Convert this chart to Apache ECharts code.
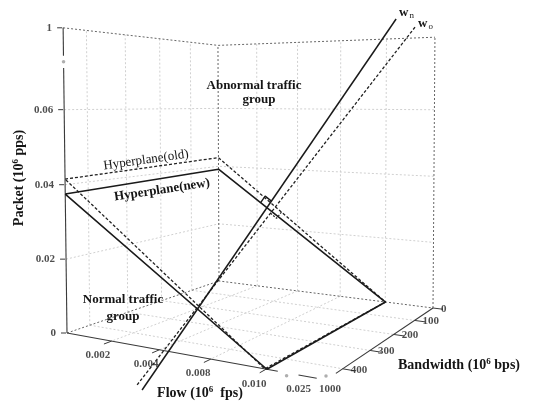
<!DOCTYPE html>
<html><head><meta charset="utf-8">
<script src="https://cdn.jsdelivr.net/npm/echarts@6/dist/echarts.min.js"></script>
<style>html,body{margin:0;padding:0;background:#fff}#c{width:538px;height:403px}</style>
</head><body><div id="c"></div>
<script>
// Axis ticks
const flowTicks = [0.002, 0.004, 0.008, 0.010, 0.025];
const flowTickLabels = ['0.002', '0.004', '0.008', '0.010', '0.025'];
const bwTicks = [0, 100, 200, 300, 400, 1000];
const bwTickLabels = ['0', '100', '200', '300', '400', '1000'];
const packetTicks = [0, 0.02, 0.04, 0.06, 1];
const packetTickLabels = ['0', '0.02', '0.04', '0.06', '1'];

// Hyperplane corners: [flow, bandwidth, packet]
const hyperplaneNew = [[0, 1000, 0.0375], [0, 0, 0.039], [0.0102, 0, 0], [0.0105, 1000, 0]];
const hyperplaneOld = [[0, 1000, 0.0415], [0, 0, 0.043], [0.0102, 0, 0], [0.00995, 1000, 0]];
// Normal vectors w_n and w_o: end points [flow, bandwidth, packet]
const normalNew = [[-0.00058, 227, -0.0278], [0.0582, 227, 1.086]];
const normalOld = [[-0.00083, 227, -0.0265], [0.0725, 227, 0.987]];

// Broken axes: tick value -> fraction of the box
const flowPos = [0, 0.2, 0.4, 0.6, 0.8, 0.87];
const bwPos = [0, 0.22, 0.44, 0.66, 0.88, 1];
const packetPos = [0, 0.245, 0.49, 0.735, 1];
function piecewise(dom, rng) {
  return x => {
    let i = 0;
    while (i < dom.length - 2 && x > dom[i + 1]) i++;
    return rng[i] + (x - dom[i]) * (rng[i + 1] - rng[i]) / (dom[i + 1] - dom[i]);
  };
}
const fScale = piecewise([0].concat(flowTicks), flowPos);
const bScale = piecewise(bwTicks, bwPos);
const pScale = piecewise(packetTicks, packetPos);
const box = ([fl, bw, pk]) => [fScale(fl), bScale(bw), pScale(pk)];

// Perspective camera from the box corners on the page
// (u = flow, v = bandwidth toward the viewer, w = packet)
const corner = { B: [219, 281], C: [433, 308], D: [326, 380], A: [67, 333], At: [63, 30], Bt: [218, 43], Ct: [435, 38] };
function det3(m) {
  return m[0][0] * (m[1][1] * m[2][2] - m[1][2] * m[2][1]) - m[0][1] * (m[1][0] * m[2][2] - m[1][2] * m[2][0]) + m[0][2] * (m[1][0] * m[2][1] - m[1][1] * m[2][0]);
}
function solve3(M, r) {
  const D = det3(M), out = [];
  for (let k = 0; k < 3; k++) out.push(det3(M.map((row, i) => row.map((v, j) => j === k ? r[i] : v))) / D);
  return out;
}
function buildCamera() {
  const [x0, y0] = corner.B, [x1, y1] = corner.C, [x2, y2] = corner.D, [x3, y3] = corner.A;
  const dx1 = x1 - x2, dx2 = x3 - x2, dx3 = x0 - x1 + x2 - x3;
  const dy1 = y1 - y2, dy2 = y3 - y2, dy3 = y0 - y1 + y2 - y3;
  const den = dx1 * dy2 - dx2 * dy1;
  const g = (dx3 * dy2 - dx2 * dy3) / den, h = (dx1 * dy3 - dx3 * dy1) / den;
  const a = x1 - x0 + g * x1, b = x3 - x0 + h * x3, c = x0;
  const d = y1 - y0 + g * y1, e = y3 - y0 + h * y3, f = y0;
  const tops = [[0, 1, corner.At], [0, 0, corner.Bt], [1, 0, corner.Ct]];
  const rows = [], rhs = [];
  tops.forEach(([u, v, [X, Y]]) => {
    const wd = g * u + h * v + 1;
    rows.push([1, 0, -X]); rhs.push(X * wd - (a * u + b * v + c));
    rows.push([0, 1, -Y]); rhs.push(Y * wd - (d * u + e * v + f));
  });
  const M = [[0, 0, 0], [0, 0, 0], [0, 0, 0]], r = [0, 0, 0];
  rows.forEach((row, k) => {
    for (let i = 0; i < 3; i++) {
      r[i] += row[i] * rhs[k];
      for (let j = 0; j < 3; j++) M[i][j] += row[i] * row[j];
    }
  });
  const p = solve3(M, r);
  return { a, b, c, d, e, f, g, h, px: p[0], py: p[1], pz: p[2] };
}
const cam = buildCamera();
function proj([u, v, w]) {
  const q = cam.g * u + cam.h * v + 1 + cam.pz * w;
  return [(cam.a * u + cam.b * v + cam.c + cam.px * w) / q, (cam.d * u + cam.e * v + cam.f + cam.py * w) / q];
}

const series = [];
function addPath(pts2, style, z) {
  series.push({ type: 'line', data: pts2, symbol: 'none', silent: true, animation: false, lineStyle: style, z: z || 2 });
}
const addLine = (pts, style, z) => addPath(pts.map(proj), style, z);

// walls and floor grid
const gridStyle = { color: '#d0d0d0', width: 1, type: [2, 2] };
const edgeStyle = { color: '#666', width: 1, type: [2, 2] };
const gridF = flowTicks.slice(0, 4).map(fScale);
const gridB = bwTicks.slice(1, 5).map(bScale);
const gridP = packetTicks.slice(1, 4).map(pScale);
gridF.forEach(u => { addLine([[u, 0, 0], [u, 1, 0]], gridStyle, 1); addLine([[u, 0, 0], [u, 0, 1]], gridStyle, 1); });
gridB.forEach(v => { addLine([[0, v, 0], [1, v, 0]], gridStyle, 1); addLine([[0, v, 0], [0, v, 1]], gridStyle, 1); });
gridP.forEach(w => addLine([[0, 1, w], [0, 0, w], [1, 0, w]], gridStyle, 1));
addLine([[0, 1, 1], [0, 0, 1], [1, 0, 1]], edgeStyle, 2);
addLine([[0, 0, 0], [0, 0, 1]], edgeStyle, 2);
addLine([[1, 0, 0], [1, 0, 1]], edgeStyle, 2);
addLine([[0, 1, 0], [0, 0, 0], [1, 0, 0]], edgeStyle, 2);

// axis lines with breaks
const axisStyle = { color: '#3a3a3a', width: 1.1 };
addLine([[0, 1, 0], [0, 1, 0.87]], axisStyle, 3);
addLine([[0, 1, 0.91], [0, 1, 1]], axisStyle, 3);
addLine([[0, 1, 0], [0.84, 1, 0]], axisStyle, 3);
addLine([[0.91, 1, 0], [0.97, 1, 0]], axisStyle, 3);
addLine([[1, 0, 0], [1, 0.93, 0]], axisStyle, 3);

// tick marks
const tickStyle = { color: '#3a3a3a', width: 1 };
packetTicks.forEach(t => { const p = proj([0, 1, pScale(t)]); addPath([[p[0] - 1, p[1]], [p[0] - 6, p[1]]], tickStyle, 3); });
flowTicks.slice(0, 4).forEach(t => addLine([[fScale(t), 1, 0], [fScale(t), 1.04, 0]], tickStyle, 3));
bwTicks.slice(0, 5).forEach(t => addLine([[1, bScale(t), 0], [1.04, bScale(t), 0]], tickStyle, 3));

// hyperplanes
const planeNew = hyperplaneNew.map(box), planeOld = hyperplaneOld.map(box);
const oldStyle = { color: '#222', width: 1.3, type: [3, 2] };
const newStyle = { color: '#1a1a1a', width: 1.6 };
addLine(planeOld.concat([planeOld[0]]), oldStyle, 4);
addLine(planeNew.concat([planeNew[0]]), newStyle, 5);

// normal vectors
const wNew = normalNew.map(box), wOld = normalOld.map(box);
addLine(wNew, { color: '#1a1a1a', width: 1.5 }, 5);
addLine(wOld, oldStyle, 4);

// right-angle marks where each normal meets its hyperplane
function cross(p1, p2, p3, p4) {
  const d1 = [p2[0] - p1[0], p2[1] - p1[1]], d2 = [p4[0] - p3[0], p4[1] - p3[1]];
  const t = ((p3[0] - p1[0]) * d2[1] - (p3[1] - p1[1]) * d2[0]) / (d1[0] * d2[1] - d1[1] * d2[0]);
  return [p1[0] + t * d1[0], p1[1] + t * d1[1]];
}
function unit(a, b) { const dx = b[0] - a[0], dy = b[1] - a[1], l = Math.hypot(dx, dy); return [dx / l, dy / l]; }
function rightAngle(plane, wl, edgeEnd, wEnd, s, style) {
  const P2 = proj(plane[1]), P3 = proj(plane[2]), W0 = proj(wl[0]), W1 = proj(wl[1]);
  const I = cross(P2, P3, W0, W1);
  const d1 = unit(I, edgeEnd ? P3 : P2), d2 = unit(I, wEnd ? W1 : W0);
  addPath([[I[0] + s * d1[0], I[1] + s * d1[1]], [I[0] + s * (d1[0] + d2[0]), I[1] + s * (d1[1] + d2[1])], [I[0] + s * d2[0], I[1] + s * d2[1]]], style, 6);
}
rightAngle(planeNew, wNew, false, true, 8, { color: '#1a1a1a', width: 1.4 });
rightAngle(planeOld, wOld, true, false, 8, { color: '#222', width: 1.1, type: [2, 1.5] });

// tick labels
const tickFont = { fontFamily: 'Liberation Serif', fontWeight: 'bold', fontSize: 11, color: '#222' };
const labelData = [];
packetTicks.forEach((t, i) => {
  const p = proj([0, 1, pScale(t)]);
  labelData.push({ value: [p[0] - 11, p[1]], label: Object.assign({ formatter: packetTickLabels[i], align: 'right', verticalAlign: 'middle' }, tickFont) });
});
flowTicks.forEach((t, i) => {
  const last = i === flowTicks.length - 1;
  const p = last ? proj([fScale(t), 1, 0]) : proj([fScale(t), 1.05, 0]);
  labelData.push({ value: last ? [p[0] + 12, p[1] + 16] : [p[0] - 4, p[1] + 10], label: Object.assign({ formatter: flowTickLabels[i], align: 'center', verticalAlign: 'middle' }, tickFont) });
});
bwTicks.forEach((t, i) => {
  const last = i === bwTicks.length - 1;
  const p = proj([1, bScale(t), 0]);
  labelData.push({ value: last ? [p[0] + 4, p[1] + 9] : [p[0] + 8, p[1] + 1], label: Object.assign({ formatter: bwTickLabels[i], align: last ? 'center' : 'left', verticalAlign: 'middle' }, tickFont) });
});
series.push({ type: 'scatter', data: labelData, symbolSize: 0, silent: true, animation: false, z: 10, label: { show: true, position: 'inside' } });

// break dots on the axes
const dots = [proj([0, 1, 0.89]), proj([fScale(flowTicks[4]), 1, 0]), proj([1, 1, 0])];
series.push({ type: 'scatter', data: [[dots[0][0], dots[0][1]], [dots[1][0], dots[1][1] + 3], [dots[2][0], dots[2][1] - 4]], symbolSize: 3.5, itemStyle: { color: '#9a9a9a' }, silent: true, animation: false, z: 9 });

const serif = 'Liberation Serif';
const txt = (x, y, text, o) => Object.assign({ type: 'text', x, y, z: 100, style: Object.assign({ text, font: 'bold 13px ' + serif, fill: '#151515', align: 'center', verticalAlign: 'middle' }, o && o.style) }, o && o.el);
const rich = { n: { font: 'bold 14px ' + serif, fill: '#151515' }, sup: { font: 'bold 9px ' + serif, fill: '#151515', verticalAlign: 'top', padding: [0, 0, 6, 0] } };
const wRich = { w: { font: 'bold 13px ' + serif, fill: '#151515' }, s: { font: '9px ' + serif, fill: '#151515', padding: [6, 0, 0, 1] } };

const option = {
  animation: false,
  grid: { left: 0, right: 0, top: 0, bottom: 0 },
  xAxis: { type: 'value', min: 0, max: 538, show: false },
  yAxis: { type: 'value', min: 0, max: 403, inverse: true, show: false },
  series: series,
  graphic: [
    txt(254, 86, 'Abnormal traffic'),
    txt(259, 100, 'group'),
    txt(123, 300, 'Normal traffic'),
    txt(123, 317, 'group'),
    txt(146, 160, 'Hyperplane(old)', { style: { font: '13px ' + serif }, el: { rotation: 0.14 } }),
    txt(162, 190, 'Hyperplane(new)', { style: { font: 'bold 13px ' + serif }, el: { rotation: 0.15 } }),
    { type: 'text', x: 200, y: 393, z: 100, style: { text: '{n|Flow (10}{sup|6}{n|  fps)}', rich, align: 'center', verticalAlign: 'middle' } },
    { type: 'text', x: 398, y: 365, z: 100, style: { text: '{n|Bandwidth (10}{sup|6}{n| bps)}', rich, align: 'left', verticalAlign: 'middle' } },
    { type: 'text', x: 19, y: 178, rotation: Math.PI / 2, z: 100, style: { text: '{n|Packet (10}{sup|6}{n| pps)}', rich, align: 'center', verticalAlign: 'middle' } },
    { type: 'text', x: 399, y: 13, z: 100, style: { text: '{w|w}{s|n}', rich: wRich, align: 'left', verticalAlign: 'middle' } },
    { type: 'text', x: 418, y: 24, z: 100, style: { text: '{w|w}{s|o}', rich: wRich, align: 'left', verticalAlign: 'middle' } }
  ]
};
const chart = echarts.init(document.getElementById('c'));
chart.setOption(option);
</script></body></html>
